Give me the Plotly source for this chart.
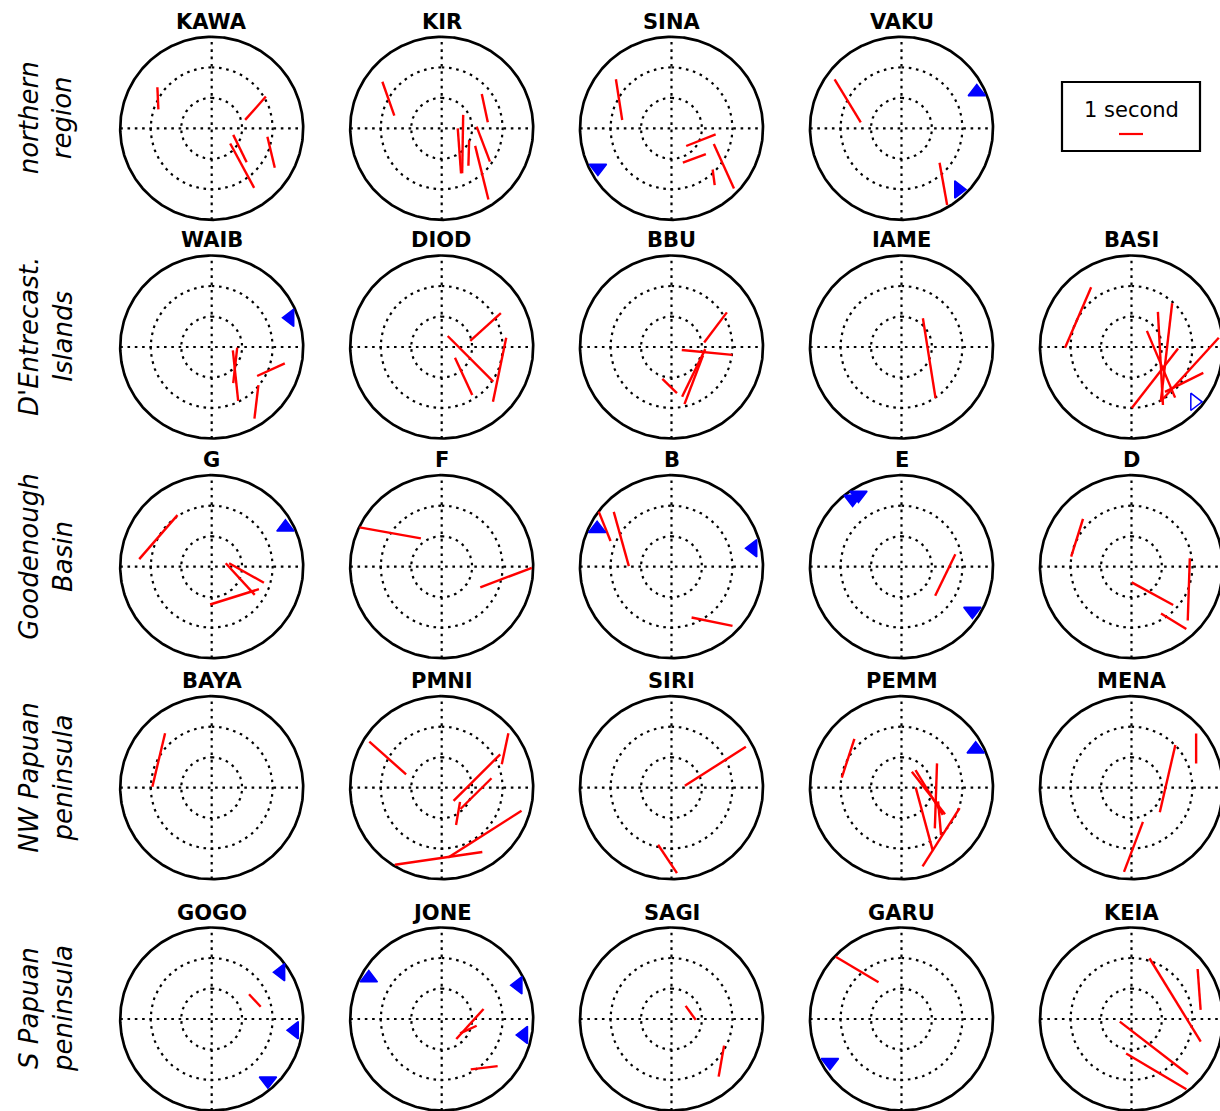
import numpy as np
import plotly.graph_objects as go

# Station layout, row by row (None marks the slot used for the scale box)
ROW_LABELS = ["northern<br>region", "D'Entrecast.<br>Islands", "Goodenough<br>Basin",
              "NW Papuan<br>peninsula", "S Papuan<br>peninsula"]
GRID = [["KAWA", "KIR", "SINA", "VAKU", None],
        ["WAIB", "DIOD", "BBU", "IAME", "BASI"],
        ["G", "F", "B", "E", "D"],
        ["BAYA", "PMNI", "SIRI", "PEMM", "MENA"],
        ["GOGO", "JONE", "SAGI", "GARU", "KEIA"]]

# Splitting measurements: station, back-azimuth (deg), incidence angle (deg),
# fast-axis azimuth (deg) and delay time (s)
SPLIT_STA = (["KAWA"] * 5 + ["KIR"] * 7 + ["SINA"] * 5 + ["VAKU"] * 2 +
             ["WAIB"] * 4 + ["DIOD"] * 4 + ["BBU"] * 5 + ["IAME"] * 1 + ["BASI"] * 7 +
             ["G"] * 4 + ["F"] * 2 + ["B"] * 3 + ["E"] * 1 + ["D"] * 4 +
             ["BAYA"] * 1 + ["PMNI"] * 7 + ["SIRI"] * 2 + ["PEMM"] * 7 + ["MENA"] * 3 +
             ["GOGO"] * 1 + ["JONE"] * 3 + ["SAGI"] * 2 + ["GARU"] * 1 + ["KEIA"] * 4)
SPLIT_BAZ = [299.1, 65.4, 125.7, 140.8, 112.0,
             299.0, 64.9, 141.9, 126.9, 132.3, 110.9, 137.9,
             298.7, 111.9, 142.8, 125.9, 139.3,
             297.0, 143.0,
             140.2, 128.1, 110.9, 140.8,
             65.5, 112.4, 143.2, 111.5,
             66.0, 98.7, 139.5, 145.9, 182.7,
             112.0,
             298.9, 111.6, 98.9, 120.3, 143.1, 123.9, 110.4,
             299.0, 113.4, 100.2, 142.9,
             303.3, 99.6,
             301.1, 298.9, 143.6,
             100.7,
             298.0, 142.2, 111.6, 142.3,
             297.6,
             298.8, 58.4, 74.0, 99.8, 147.6, 137.1, 182.5,
             64.0, 183.2,
             298.9, 101.1, 99.8, 103.3, 143.9, 141.4, 128.7,
             75.9, 58.7, 178.1,
             66.8,
             100.1, 111.5, 138.9,
             72.4, 130.2,
             318.1,
             66.4, 66.4, 142.3, 154.7]
SPLIT_INC = [10.1, 7.9, 5.7, 7.9, 10.5,
             10.0, 7.8, 4.7, 4.3, 6.0, 7.3, 9.8,
             9.8, 5.2, 6.2, 10.6, 10.6,
             9.9, 11.4,
             6.1, 4.9, 10.4, 11.6,
             7.9, 5.1, 6.0, 10.2,
             7.9, 5.9, 5.6, 6.5, 6.4,
             4.9,
             10.0, 5.1, 5.8, 5.6, 6.4, 10.4, 10.3,
             10.0, 5.1, 5.8, 6.2,
             10.1, 10.7,
             12.8, 9.4, 11.2,
             7.3,
             10.1, 5.6, 10.1, 11.3,
             9.8,
             10.1, 12.2, 6.0, 5.7, 5.0, 10.4, 11.6,
             8.0, 11.7,
             10.0, 4.5, 4.6, 5.8, 6.3, 10.4, 8.0,
             6.1, 12.4, 9.7,
             7.7,
             4.7, 4.7, 10.6,
             3.3, 10.7,
             10.9,
             7.8, 12.1, 6.0, 9.5]
SPLIT_PHI = [177.4, 41.6, 153.9, 151.6, 166.6,
             160.6, 168.0, 175.8, 1.0, 1.6, 159.2, 166.1,
             171.2, 68.3, 70.0, 155.5, 172.4,
             148.7, 169.8,
             174.0, 6.4, 65.4, 6.8,
             47.9, 135.1, 155.1, 11.7,
             37.1, 95.6, 25.9, 20.8, 134.2,
             171.0,
             23.4, 176.9, 6.6, 157.1, 37.9, 63.6, 42.4,
             41.0, 137.5, 119.2, 72.6,
             100.2, 69.2,
             158.1, 164.5, 101.5,
             26.0,
             17.4, 118.6, 1.9, 121.8,
             13.4,
             131.6, 12.0, 45.0, 45.3, 9.7, 57.5, 81.7,
             57.4, 146.3,
             18.0, 142.1, 148.7, 1.9, 164.9, 32.4, 174.9,
             13.0, 0.0, 20.7,
             136.7,
             42.3, 65.5, 83.0,
             144.2, 9.9,
             120.8,
             148.4, 175.8, 127.6, 120.7]
SPLIT_DT = [0.92, 1.30, 1.27, 2.10, 1.33,
            1.50, 1.21, 1.88, 2.43, 1.07, 1.56, 2.30,
            1.72, 1.32, 1.02, 2.03, 0.66,
            2.10, 1.79,
            2.12, 1.49, 1.27, 1.40,
            1.72, 2.69, 1.71, 2.72,
            1.57, 2.12, 2.21, 2.17, 0.85,
            3.37,
            2.74, 3.89, 4.13, 3.02, 3.14, 1.78, 3.51,
            2.43, 1.79, 1.66, 2.13,
            2.60, 2.30,
            1.32, 2.35, 1.74,
            1.92,
            1.65, 1.97, 2.60, 1.24,
            2.29,
            2.05, 1.32, 2.75, 1.82, 0.98, 3.62, 3.68,
            3.02, 1.42,
            1.70, 2.25, 2.19, 2.71, 2.71, 2.88, 1.41,
            2.88, 1.25, 2.23,
            0.71,
            1.69, 0.76, 1.13,
            0.72, 1.31,
            2.08,
            4.08, 1.71, 3.59, 2.92]

# Null measurements, drawn as triangles at the rim of each stereonet
NULL_STA = ["SINA", "VAKU", "VAKU", "WAIB", "BASI", "G", "B", "B", "E", "E", "E",
            "PEMM", "GOGO", "GOGO", "GOGO", "JONE", "JONE", "JONE", "GARU"]
NULL_BAZ = [241.7, 64.3, 137.0, 69.5, 131.0, 61.9, 297.1, 77.2, 324.2, 329.0, 122.0,
            62.6, 55.9, 97.7, 137.7, 299.3, 66.2, 101.0, 238.9]
NULL_SYMBOL = ["triangle-down", "triangle-up", "triangle-right", "triangle-left",
               "triangle-right-open", "triangle-up", "triangle-up", "triangle-left",
               "triangle-down", "triangle-down", "triangle-down", "triangle-up",
               "triangle-left", "triangle-left", "triangle-down", "triangle-up",
               "triangle-left", "triangle-left", "triangle-down"]

# Page geometry (pixels)
W, H = 1220, 1111
COL_X = [211.7, 441.7, 671.5, 901.5, 1131.5]
ROW_Y = [128.3, 347.0, 566.7, 787.7, 1019.0]
R_PX = 91.5          # radius of each stereonet
R_MAX = 15.0         # incidence angle at the rim
PX = R_PX / R_MAX    # pixels per degree of incidence
SEC = 24.0 / PX      # length of one second of delay, in plot units
HALF = 17.0          # half-width of each panel window
NULL_R = 13.7

DOT = "2.6px,4.7px"

fig = go.Figure()
theta = np.linspace(0, 2 * np.pi, 361)

k = 0
for r, row in enumerate(GRID):
    for c, sta in enumerate(row):
        if sta is None:
            continue
        k += 1
        cx, cy = COL_X[c], ROW_Y[r]
        x0, x1 = max(0.0, cx - HALF * PX), min(W, cx + HALF * PX)
        top, bot = max(0.0, cy - HALF * PX), min(H, cy + HALF * PX)
        sfx = "" if k == 1 else str(k)
        fig.update_layout(**{
            "xaxis" + sfx: dict(domain=[x0 / W, x1 / W],
                                range=[(x0 - cx) / PX, (x1 - cx) / PX],
                                visible=False, fixedrange=True),
            "yaxis" + sfx: dict(domain=[1 - bot / H, 1 - top / H],
                                range=[(cy - bot) / PX, (cy - top) / PX],
                                visible=False, fixedrange=True),
        })
        xr, yr = "x" + sfx, "y" + sfx

        # dotted rings at 5 and 10 degrees plus cross-hairs
        gx, gy = [], []
        for rad in (5.0, 10.0):
            gx += list(rad * np.sin(theta)) + [None]
            gy += list(rad * np.cos(theta)) + [None]
        gx += [-R_MAX, R_MAX, None, 0, 0]
        gy += [0, 0, None, -R_MAX, R_MAX]
        fig.add_trace(go.Scatter(x=gx, y=gy, mode="lines", xaxis=xr, yaxis=yr,
                                 line=dict(color="black", width=2.2, dash=DOT),
                                 hoverinfo="skip"))

        # outer rim
        fig.add_trace(go.Scatter(x=R_MAX * np.sin(theta), y=R_MAX * np.cos(theta),
                                 mode="lines", xaxis=xr, yaxis=yr,
                                 line=dict(color="black", width=2.7),
                                 hoverinfo="skip"))

        # splitting bars: centred on the (baz, incidence) point, oriented along
        # the fast axis, length proportional to delay time
        sx, sy = [], []
        for s, baz, inc, phi, dt in zip(SPLIT_STA, SPLIT_BAZ, SPLIT_INC, SPLIT_PHI, SPLIT_DT):
            if s != sta:
                continue
            b, p = np.radians(baz), np.radians(phi)
            mx, my = inc * np.sin(b), inc * np.cos(b)
            hx, hy = 0.5 * dt * SEC * np.sin(p), 0.5 * dt * SEC * np.cos(p)
            sx += [mx - hx, mx + hx, None]
            sy += [my - hy, my + hy, None]
        if sx:
            fig.add_trace(go.Scatter(x=sx, y=sy, mode="lines", xaxis=xr, yaxis=yr,
                                     line=dict(color="#ff0000", width=2.4),
                                     hoverinfo="skip"))

        # nulls
        nx, ny, ns = [], [], []
        for s, baz, sym in zip(NULL_STA, NULL_BAZ, NULL_SYMBOL):
            if s != sta:
                continue
            b = np.radians(baz)
            nx.append(NULL_R * np.sin(b))
            ny.append(NULL_R * np.cos(b))
            ns.append(sym)
        if nx:
            fig.add_trace(go.Scatter(x=nx, y=ny, mode="markers", xaxis=xr, yaxis=yr,
                                     marker=dict(symbol=ns, size=15, color="#0000ff",
                                                 line=dict(color="#0000ff", width=1.5)),
                                     hoverinfo="skip"))

        fig.add_annotation(text=sta, x=cx / W, y=1 - (cy - 106.5) / H,
                           xref="paper", yref="paper", showarrow=False,
                           xanchor="center", yanchor="middle",
                           font=dict(family="DejaVu Sans", size=21, color="black",
                                     weight="bold"))

# region labels down the left side
for r, label in enumerate(ROW_LABELS):
    fig.add_annotation(text=label, x=46 / W, y=1 - (ROW_Y[r] - 10) / H,
                       xref="paper", yref="paper", showarrow=False, textangle=-90,
                       xanchor="center", yanchor="middle",
                       font=dict(family="DejaVu Sans", size=26, color="black",
                                 style="italic"))

# delay-time scale box
fig.add_shape(type="rect", xref="paper", yref="paper",
              x0=1062 / W, x1=1200 / W, y0=1 - 151 / H, y1=1 - 82 / H,
              line=dict(color="black", width=2.2), fillcolor="white")
fig.add_annotation(text="1 second", x=1131 / W, y=1 - 110 / H, xref="paper", yref="paper",
                   showarrow=False, xanchor="center", yanchor="middle",
                   font=dict(family="DejaVu Sans", size=21, color="black"))
bar_px = 1.0 * SEC * PX
fig.add_shape(type="line", xref="paper", yref="paper",
              x0=(1131 - bar_px / 2) / W, x1=(1131 + bar_px / 2) / W,
              y0=1 - 134 / H, y1=1 - 134 / H,
              line=dict(color="#ff0000", width=2.2))

fig.update_layout(width=W, height=H, margin=dict(l=0, r=0, t=0, b=0),
                  paper_bgcolor="white", plot_bgcolor="white", showlegend=False)

fig.write_html("out.html")
